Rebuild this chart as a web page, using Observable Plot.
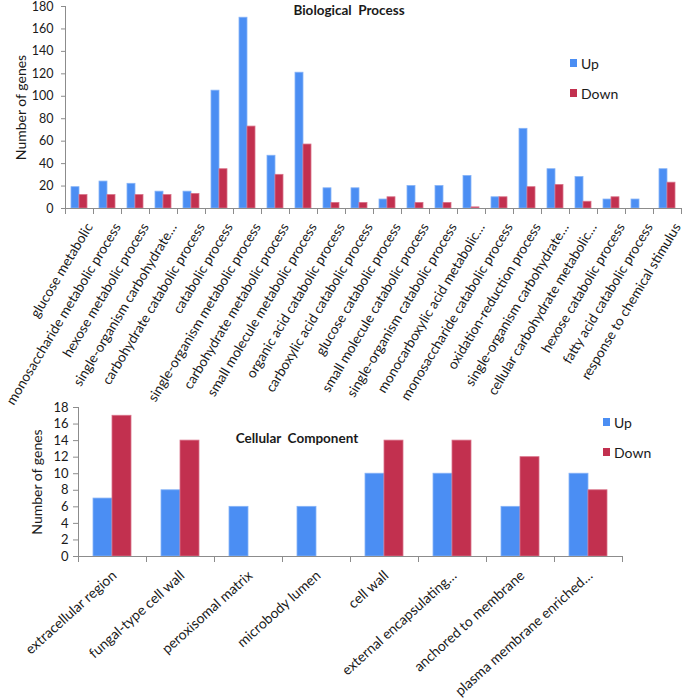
<!DOCTYPE html>
<html><head><meta charset="utf-8">
<script src="https://cdn.jsdelivr.net/npm/d3@7"></script>
<script src="https://cdn.jsdelivr.net/npm/@observablehq/plot@0.6"></script>
<style>
html,body{margin:0;padding:0;background:#fff;overflow:hidden;}
#wrap{position:relative;width:687px;height:698px;font-family:Lato,"Open Sans",sans-serif;color:#1a1a1a;}
#wrap svg{position:absolute;left:0;overflow:visible;max-width:none;background:transparent;}
.title{position:absolute;font-weight:bold;white-space:pre;transform:translate(-50%,-50%);}
.legend{position:absolute;font-size:14px;}
.legend .row{display:flex;align-items:center;height:30px;}
.legend .sw{width:7px;height:8px;margin-right:4px;}
</style></head><body><div id="wrap"></div>
<script>
const series = ["Up", "Down"];
const colors = ["#4b8ef3", "#c2304f"];
const strokes = ["#86b3f7", "#d9738a"];

const bpCategories = [
  "glucose metabolic", "monosaccharide metabolic process", "hexose metabolic process",
  "single-organism carbohydrate…", "carbohydrate catabolic process", "catabolic process",
  "single-organism metabolic process", "carbohydrate metabolic process",
  "small molecule metabolic process", "organic acid catabolic process",
  "carboxylic acid catabolic process", "glucose catabolic process",
  "small molecule catabolic process", "single-organism catabolic process",
  "monocarboxylic acid metabolic…", "monosaccharide catabolic process",
  "oxidation-reduction process", "single-organism carbohydrate…",
  "cellular carbohydrate metabolic…", "hexose catabolic process",
  "fatty acid catabolic process", "response to chemical stimulus"
];
const bpUp   = [19, 24, 22, 15, 15, 105, 170, 47, 121, 18, 18, 8, 20, 20, 29, 10, 71, 35, 28, 8, 8, 35];
const bpDown = [12, 12, 12, 12, 13, 35, 73, 30, 57, 5, 5, 10, 5, 5, 1, 10, 19, 21, 6, 10, 0, 23];
const bpTicks = [0, 20, 40, 60, 80, 100, 120, 140, 160, 180];

const ccCategories = [
  "extracellular region", "fungal-type cell wall", "peroxisomal matrix", "microbody lumen",
  "cell wall", "external encapsulating…", "anchored to membrane", "plasma membrane enriched…"
];
const ccUp   = [7, 8, 6, 6, 10, 10, 6, 10];
const ccDown = [17, 14, 0, 0, 14, 14, 12, 8];
const ccTicks = [0, 2, 4, 6, 8, 10, 12, 14, 16, 18];

function table(cats, up, down) {
  return cats.flatMap((c, i) => [
    {idx: i, series: series[0], value: up[i]},
    {idx: i, series: series[1], value: down[i]}
  ]);
}
const bpData = table(bpCategories, bpUp, bpDown);
const ccData = table(ccCategories, ccUp, ccDown);

const axisColor = "#8c8c8c";
const font = "Lato, 'Open Sans', sans-serif";

function chart(o) {
  const innerH = o.height - o.marginTop - o.marginBottom;
  return Plot.plot({
    width: 687, height: o.height,
    marginTop: o.marginTop, marginBottom: o.marginBottom,
    marginLeft: o.marginLeft, marginRight: o.marginRight,
    style: {fontFamily: font, color: "#1a1a1a", background: "transparent", overflow: "visible"},
    fx: {domain: d3.range(o.categories.length), paddingInner: 0, paddingOuter: 0, label: null},
    x: {domain: series, paddingInner: 0, paddingOuter: o.barPad, axis: null},
    y: {domain: o.yDomain, label: null},
    color: {domain: series, range: colors},
    marks: [
      Plot.barY(o.data, {fx: "idx", x: "series", y: "value", fill: "series",
        stroke: d => strokes[series.indexOf(d.series)], strokeWidth: 0.8}),
      Plot.ruleY([0], {stroke: axisColor}),
      Plot.frame({anchor: "left", facetAnchor: "left", stroke: axisColor}),
      Plot.frame({anchor: "left", insetTop: innerH, insetBottom: -5, stroke: axisColor}),
      Plot.frame({anchor: "right", facetAnchor: "right", insetTop: innerH, insetBottom: -5, stroke: axisColor}),
      Plot.axisY({ticks: o.ticks, tickSize: o.tickSize, tickPadding: o.tickPadding, fontSize: o.yFont,
        stroke: axisColor, label: null}),
      Plot.text(["Number of genes"], {frameAnchor: "left", rotate: -90, dx: o.labelDx,
        textAnchor: "middle", lineAnchor: "middle", fontSize: 14, facetAnchor: "left", fill: "#1a1a1a"}),
      Plot.axisFx({anchor: "bottom", tickSize: 0, tickRotate: o.rotate, tickPadding: o.xPad,
        dx: o.xdx, fontSize: o.xFont, label: null, tickFormat: i => o.categories[i]})
    ]
  });
}

const wrap = document.getElementById("wrap");

const topSvg = chart({categories: bpCategories, data: bpData, yDomain: [0, 180], ticks: bpTicks,
  height: 400, marginTop: 6, marginBottom: 192, marginLeft: 62, marginRight: 3, barPad: 0.7,
  tickSize: 4, tickPadding: 8, yFont: 12.5, labelDx: -44, rotate: -59, xPad: 16, xdx: 10, xFont: 13.7});
topSvg.style.top = "0px";
wrap.appendChild(topSvg);

const botSvg = chart({categories: ccCategories, data: ccData, yDomain: [0, 18], ticks: ccTicks,
  height: 308, marginTop: 17, marginBottom: 142, marginLeft: 77, marginRight: 65, barPad: 0.76,
  tickSize: 5, tickPadding: 5, yFont: 13, labelDx: -41, rotate: -42, xPad: 17, xdx: 2, xFont: 14});
botSvg.style.top = "390px";
wrap.appendChild(botSvg);

function title(text, x, y, size) {
  const d = document.createElement("div");
  d.className = "title";
  d.textContent = text;
  d.style.left = x + "px"; d.style.top = y + "px"; d.style.fontSize = size + "px";
  wrap.appendChild(d);
}
title("Biological  Process", 349, 10, 13.5);
title("Cellular  Component", 297, 438, 13.5);

function legend(x, y) {
  const d = document.createElement("div");
  d.className = "legend";
  d.style.left = x + "px"; d.style.top = y + "px";
  series.forEach((s, i) => {
    const r = document.createElement("div");
    r.className = "row";
    const sw = document.createElement("span");
    sw.className = "sw"; sw.style.background = colors[i];
    const t = document.createElement("span"); t.textContent = s;
    r.appendChild(sw); r.appendChild(t); d.appendChild(r);
  });
  wrap.appendChild(d);
}
legend(570, 48);
legend(603, 407);
</script></body></html>
